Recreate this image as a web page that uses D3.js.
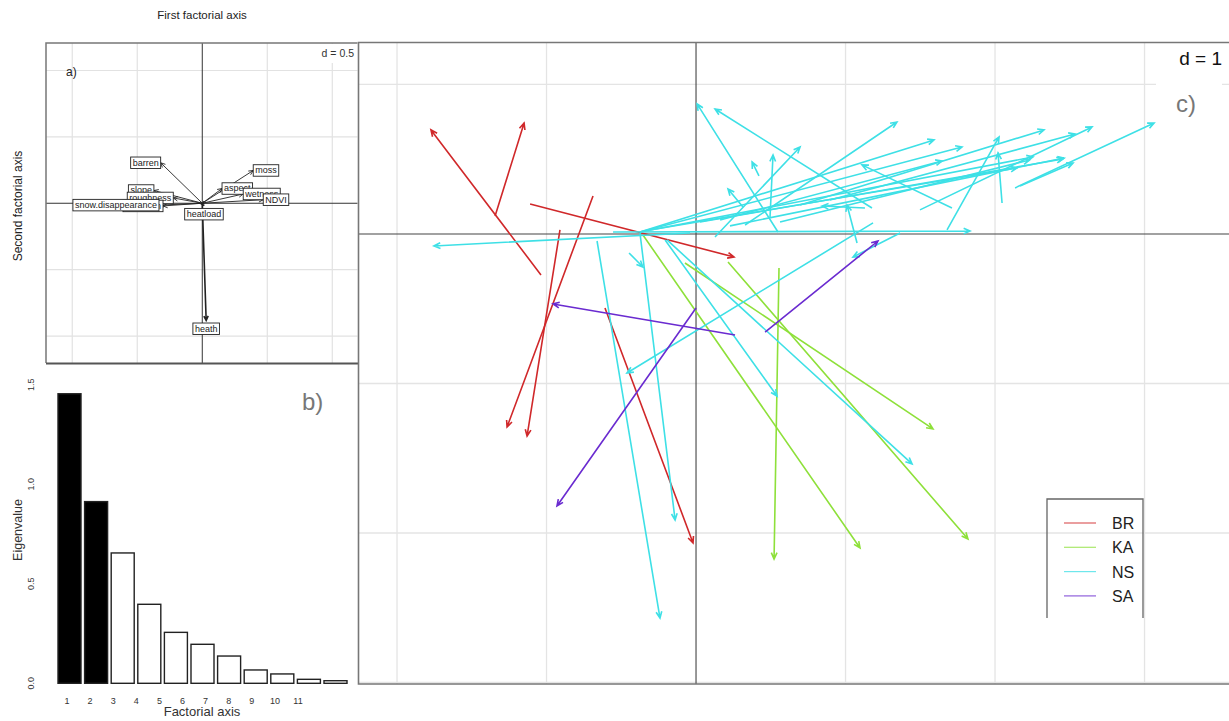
<!DOCTYPE html>
<html><head><meta charset="utf-8">
<script src="https://cdn.jsdelivr.net/npm/d3@7"></script>
<style>
body{margin:0;background:#fff}
svg{display:block}
text{font-family:"Liberation Sans",Arial,sans-serif}
</style>
</head><body>
<svg id="chart" width="1229" height="721"></svg>
<script>
// ---------- Panel b: eigenvalues ----------
const eigenAxes = ["1","2","3","4","5","6","7","8","9","10","11"];
const eigenValues = [1.455, 0.913, 0.655, 0.397, 0.256, 0.196, 0.137, 0.067, 0.047, 0.020, 0.013];
const eigenKept = 2;
const eigenTicks = [0, 0.5, 1.0, 1.5];

// ---------- Panel a: variable loadings ----------
const varNames = ["barren","slope","roughness","elevation","snow.disappearance","aspect","wetness","NDVI","moss","heatload","heath"];
const varX = [-0.320, -0.372, -0.223, -0.302, -0.333, 0.152, 0.315, 0.469, 0.392, 0.013, 0.030];
const varY = [0.305, 0.096, 0.040, -0.020, -0.014, 0.111, 0.070, 0.027, 0.247, -0.020, -0.883];

// ---------- Panel c: site arrows (start -> end) ----------
const groups = ["BR","KA","NS","SA"];
const groupColors = ["#d0282a","#8ee03a","#3ee0e6","#6a2bd0"];
const siteGroup = [
 "BR","BR","BR","BR","BR","BR",
 "KA","KA","KA","KA",
 "NS","NS","NS","NS","NS","NS","NS","NS","NS","NS","NS","NS","NS","NS","NS","NS","NS",
 "NS","NS","NS","NS","NS","NS","NS","NS","NS","NS","NS","NS","NS","NS","NS","NS","NS",
 "SA","SA","SA"];
const siteX0 = [
 -1.037,-1.344,-1.110,-0.689,-0.910,-0.609,
 -0.355,-0.074,0.214,0.555,
 -0.662,-0.375,-0.448,-0.207,-0.194,1.184,-0.040,0.548,1.177,0.127,0.421,0.495,0.314,0.328,1.130,1.712,-0.555,
 -0.375,-0.375,0.161,1.679,0.696,0.896,1.498,2.134,-0.375,0.027,2.167,-0.308,2.047,1.077,1.365,0.562,0.227,
 0.261,0.000,0.462];
const siteY0 = [
 -0.274,0.120,0.201,0.254,0.027,-0.495,
 -0.007,-0.194,-0.187,-0.227,
 -0.047,0.007,-0.127,-0.040,-0.040,0.074,0.007,0.013,0.174,-0.020,0.388,0.114,0.181,0.060,0.174,0.174,0.013,
 0.013,0.013,0.094,0.027,0.194,0.227,0.161,0.308,0.013,0.080,0.321,0.027,0.207,-0.060,0.007,0.080,0.054,
 -0.676,-0.495,-0.656];
const siteX1 = [
 -1.773,-1.150,0.254,-1.264,-1.130,-0.020,
 1.097,1.585,1.819,0.522,
 -0.241,-0.140,-0.355,0.542,1.445,-0.462,-1.753,0.007,0.127,0.696,0.375,0.515,0.214,1.344,0.843,1.110,1.833,
 1.592,1.779,1.645,2.027,2.328,2.535,2.649,3.064,2.254,2.455,2.522,2.147,2.020,1.010,1.050,2.231,2.462,
 -0.957,-0.930,1.217];
const siteY1 = [
 0.696,0.742,-0.154,-1.291,-1.351,-2.067,
 -2.100,-1.304,-2.040,-2.174,
 -2.569,-1.913,-0.221,-1.084,-1.538,-0.930,-0.080,0.870,0.836,0.582,0.482,0.528,0.301,0.749,0.187,0.462,0.020,
 0.629,0.582,0.488,0.649,0.696,0.669,0.716,0.742,0.515,0.502,0.475,0.441,0.542,0.194,-0.154,0.495,0.508,
 -0.468,-1.819,-0.047];

const svg = d3.select("#chart");
const color = d3.scaleOrdinal().domain(groups).range(groupColors);

function arrowD(x0,y0,x1,y1,len,ang){
  const a = Math.atan2(y1-y0, x1-x0);
  const p = d3.path();
  p.moveTo(x0,y0); p.lineTo(x1,y1);
  p.moveTo(x1-len*Math.cos(a-ang), y1-len*Math.sin(a-ang));
  p.lineTo(x1,y1);
  p.lineTo(x1-len*Math.cos(a+ang), y1-len*Math.sin(a+ang));
  return p.toString();
}

// ================= Panel a =================
const xA = d3.scaleLinear().domain([-1.202, 1.194]).range([46, 357.5]);
const yA = d3.scaleLinear().domain([-1.203, 1.207]).range([363, 43]);
const gA = svg.append("g");
const gridA = [-1, -0.5, 0.5, 1];
gA.selectAll(".gxa").data(gridA).join("line")
  .attr("x1", d=>xA(d)).attr("x2", d=>xA(d)).attr("y1", 43).attr("y2", 363)
  .attr("stroke", "#e2e2e2").attr("stroke-width", 1.2);
gA.selectAll(".gya").data(gridA).join("line")
  .attr("y1", d=>yA(d)).attr("y2", d=>yA(d)).attr("x1", 46).attr("x2", 357.5)
  .attr("stroke", "#e2e2e2").attr("stroke-width", 1.2);
gA.append("line").attr("x1", xA(0)).attr("x2", xA(0)).attr("y1", 43).attr("y2", 363).attr("stroke", "#333").attr("stroke-width", 1);
gA.append("line").attr("y1", yA(0)).attr("y2", yA(0)).attr("x1", 46).attr("x2", 357.5).attr("stroke", "#333").attr("stroke-width", 1);
// d = 0.5 box
gA.append("rect").attr("x", 318).attr("y", 44).attr("width", 38).attr("height", 19).attr("fill", "#fff");
gA.append("text").attr("x", 354).attr("y", 57).attr("text-anchor", "end").attr("font-size", 10.5).attr("fill", "#333").text("d = 0.5");
gA.append("text").attr("x", 66).attr("y", 76).attr("font-size", 12).attr("fill", "#222").text("a)");
// arrows
varNames.forEach((n,i)=>{
  gA.append("path").attr("d", arrowD(xA(0), yA(0), xA(varX[i]), yA(varY[i]), 5, 0.45))
    .attr("fill", "none").attr("stroke", "#222").attr("stroke-width", n==="heath"?1.6:0.9);
});
// labels
varNames.forEach((n,i)=>{
  const hx = xA(varX[i]), hy = yA(varY[i]);
  const lg = gA.append("g");
  const rect = lg.append("rect").attr("fill", "#fff").attr("stroke", "#222").attr("stroke-width", 0.9);
  const t = lg.append("text").attr("font-size", 9).attr("fill", "#222").text(n);
  const w = t.node().getComputedTextLength() + 4, h = 11.5;
  let bx, by;
  if (Math.abs(varX[i]) < 0.1) { bx = hx - w/2; by = hy + 2.5; }
  else { bx = varX[i] < 0 ? hx - w : hx; by = hy - h/2; }
  rect.attr("x", bx).attr("y", by).attr("width", w).attr("height", h);
  t.attr("x", bx + 2).attr("y", by + h - 2.8);
});
// frame a
gA.append("path").attr("d", "M46,363L46,43L357.5,43").attr("fill","none").attr("stroke", "#777").attr("stroke-width", 1.5);
gA.append("line").attr("x1", 46).attr("x2", 358).attr("y1", 363.5).attr("y2", 363.5).attr("stroke", "#555").attr("stroke-width", 2.2);

svg.append("text").attr("x", 202).attr("y", 19).attr("text-anchor", "middle").attr("font-size", 11.5).attr("fill", "#222").text("First factorial axis");
svg.append("text").attr("transform", "translate(22,206) rotate(-90)").attr("text-anchor", "middle").attr("font-size", 12).attr("fill", "#222").text("Second factorial axis");

// ================= Panel b =================
const xB = d3.scaleBand().domain(eigenAxes).range([56.2, 348.8]).paddingInner(0.135).paddingOuter(0.0675);
const xBlab = d3.scalePoint().domain(eigenAxes).range([67, 298]);
const yB = d3.scaleLinear().domain([0, 1.6]).range([683.3, 364.9]);
const gB = svg.append("g");
gB.selectAll("rect.bar").data(eigenValues).join("rect")
  .attr("x", (d,i)=>xB(eigenAxes[i])).attr("width", xB.bandwidth())
  .attr("y", d=>yB(d)).attr("height", d=>yB(0)-yB(d))
  .attr("fill", (d,i)=> i < eigenKept ? "#000" : "#fff")
  .attr("stroke", "#222").attr("stroke-width", 1.4);
gB.selectAll("text.xl").data(eigenAxes).join("text")
  .attr("x", d=>xBlab(d)).attr("y", 704).attr("text-anchor", "middle")
  .attr("font-size", 9).attr("fill", "#333").text(d=>d);
gB.selectAll("text.yl").data(eigenTicks).join("text")
  .attr("transform", d=>`translate(34,${yB(d)}) rotate(-90)`).attr("text-anchor", "middle")
  .attr("font-size", 9).attr("fill", "#333").text(d=>d3.format(".1f")(d));
gB.append("text").attr("transform", "translate(22,530) rotate(-90)").attr("text-anchor", "middle").attr("font-size", 12.5).attr("fill", "#333").text("Eigenvalue");
gB.append("text").attr("x", 202).attr("y", 716).attr("text-anchor", "middle").attr("font-size", 13).attr("fill", "#333").text("Factorial axis");
gB.append("text").attr("x", 302).attr("y", 410).attr("font-family", "'Liberation Serif','DejaVu Serif',serif").attr("font-size", 24).attr("fill", "#777").text("b)");

// ================= Panel c =================
const xC = d3.scaleLinear().domain([-2.261, 3.565]).range([358, 1229]);
const yC = d3.scaleLinear().domain([-3.01, 1.284]).range([684, 42]);
const gC = svg.append("g");
const gridCx = [-2, -1, 1, 2, 3];
const gridCy = [1, -1, -2, -3];
gC.selectAll(".gxc").data(gridCx).join("line")
  .attr("x1", d=>xC(d)).attr("x2", d=>xC(d)).attr("y1", 42).attr("y2", 684)
  .attr("stroke", "#e4e4e4").attr("stroke-width", 1.3);
gC.selectAll(".gyc").data(gridCy).join("line")
  .attr("y1", d=>yC(d)).attr("y2", d=>yC(d)).attr("x1", 358).attr("x2", 1229)
  .attr("stroke", "#e4e4e4").attr("stroke-width", 1.3);
gC.append("line").attr("x1", xC(0)).attr("x2", xC(0)).attr("y1", 42).attr("y2", 684).attr("stroke", "#444").attr("stroke-width", 1.1);
gC.append("line").attr("y1", yC(0)).attr("y2", yC(0)).attr("x1", 358).attr("x2", 1229).attr("stroke", "#444").attr("stroke-width", 1.1);
// d = 1 box
gC.append("rect").attr("x", 1156).attr("y", 43).attr("width", 66).attr("height", 44).attr("fill", "#fff");
gC.append("text").attr("x", 1222).attr("y", 65).attr("text-anchor", "end").attr("font-size", 19).attr("fill", "#111").text("d = 1");
gC.append("text").attr("x", 1176).attr("y", 112).attr("font-family", "'Liberation Serif','DejaVu Serif',serif").attr("font-size", 24).attr("fill", "#777").text("c)");

// site arrows
const order = ["BR","KA","NS","SA"];
order.forEach(gname=>{
  siteGroup.forEach((g,i)=>{
    if (g !== gname) return;
    gC.append("path")
      .attr("d", arrowD(xC(siteX0[i]), yC(siteY0[i]), xC(siteX1[i]), yC(siteY1[i]), 7, 0.42))
      .attr("fill", "none").attr("stroke", color(g)).attr("stroke-width", 1.6)
      .attr("stroke-linejoin", "miter");
  });
});

// legend
const gL = gC.append("g");
gL.append("path").attr("d", "M1047,618L1047,499L1143,499L1143,618").attr("fill", "none").attr("stroke", "#666").attr("stroke-width", 1.3);
groups.forEach((g,i)=>{
  const y = 523 + i*24.3;
  gL.append("line").attr("x1", 1064).attr("x2", 1096).attr("y1", y).attr("y2", y).attr("stroke", color(g)).attr("stroke-width", 1.2).attr("opacity", 0.75);
  gL.append("text").attr("x", 1112).attr("y", y + 6).attr("font-size", 16).attr("fill", "#222").text(g);
});

// frame c
gC.append("path").attr("d", "M1229,42.5L358.5,42.5L358.5,684L1229,684").attr("fill", "none").attr("stroke", "#777").attr("stroke-width", 1.6);
</script>
</body></html>
